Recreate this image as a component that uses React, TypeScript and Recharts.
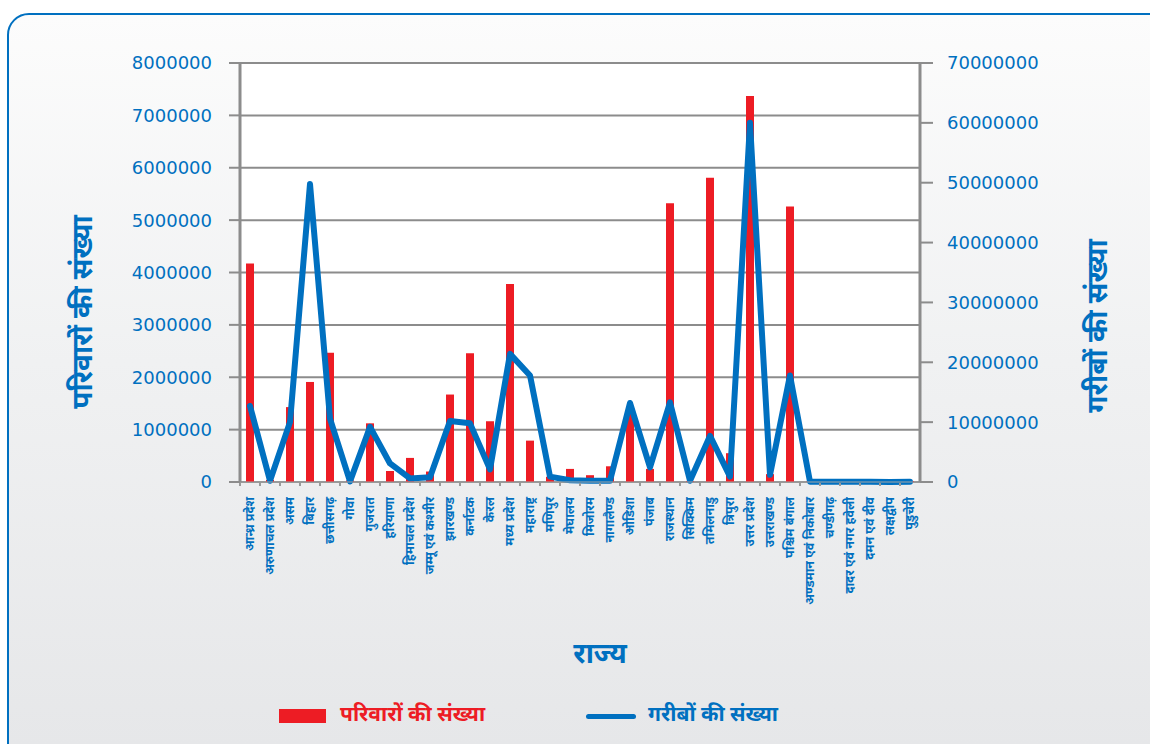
import { ComposedChart, Bar, Line, XAxis, YAxis, CartesianGrid } from 'recharts';

const states = [
  'आन्ध्र प्रदेश',
  'अरुणाचल प्रदेश',
  'असम',
  'बिहार',
  'छत्तीसगढ़',
  'गोवा',
  'गुजरात',
  'हरियाणा',
  'हिमाचल प्रदेश',
  'जम्मू एवं कश्मीर',
  'झारखण्ड',
  'कर्नाटक',
  'केरल',
  'मध्य प्रदेश',
  'महाराष्ट्र',
  'मणिपुर',
  'मेघालय',
  'मिजोरम',
  'नागालैण्ड',
  'ओडिशा',
  'पंजाब',
  'राजस्थान',
  'सिक्किम',
  'तमिलनाडु',
  'त्रिपुरा',
  'उत्तर प्रदेश',
  'उत्तराखण्ड',
  'पश्चिम बंगाल',
  'अण्डमान एवं निकोबार',
  'चण्डीगढ़',
  'दादर एवं नगर हवेली',
  'दमन एवं दीव',
  'लक्षद्वीप',
  'पुडुचेरी',
];

// परिवारों की संख्या (left axis)
const households = [
  4170000, 40000, 1430000, 1910000, 2470000, 30000, 1120000, 210000, 460000, 200000,
  1670000, 2460000, 1160000, 3780000, 790000, 100000, 250000, 130000, 300000, 1300000,
  250000, 5320000, 20000, 5810000, 550000, 7370000, 150000, 5260000, 10000, 5000,
  10000, 5000, 2000, 20000,
];

// गरीबों की संख्या (right axis)
const poor = [
  12700000, 200000, 10000000, 49800000, 10600000, 100000, 9200000, 3100000, 600000, 800000,
  10200000, 9800000, 2100000, 21400000, 17800000, 900000, 300000, 200000, 200000, 13200000,
  2450000, 13300000, 200000, 7700000, 900000, 60000000, 1200000, 17800000, 50000, 50000,
  50000, 50000, 20000, 50000,
];

const leftTicks = [0, 1000000, 2000000, 3000000, 4000000, 5000000, 6000000, 7000000, 8000000];
const rightTicks = [0, 10000000, 20000000, 30000000, 40000000, 50000000, 60000000, 70000000];

const data = states.map((state, i) => ({ state, households: households[i], poor: poor[i] }));

const BLUE = '#0070c0';
const RED = '#ed1c24';
const GRID = '#8c8c8c';
const DEVA = "'Noto Sans Devanagari', 'Lohit Devanagari', 'Noto Sans', sans-serif";
const NUM = "'DejaVu Sans', Verdana, sans-serif";

function StateTick({ x, y, payload }: any) {
  return (
    <g transform={`translate(${x},${y})`}>
      <line x1={-10} x2={-10} y1={-7} y2={-4} stroke="#9a9a9a" strokeWidth={2} />
      <text
        transform="rotate(-90)"
        x={-7}
        y={0}
        dy={4}
        textAnchor="end"
        fill={BLUE}
        fontSize={12.5}
        fontWeight="bold"
        fontFamily={DEVA}
      >
        {payload.value}
      </text>
    </g>
  );
}

const titleStyle = {
  position: 'absolute' as const,
  whiteSpace: 'nowrap' as const,
  color: BLUE,
  fontFamily: DEVA,
  fontWeight: 'bold' as const,
};

export default function App() {
  return (
    <div style={{ position: 'absolute', left: 0, top: 0, width: 1150, height: 744, overflow: 'hidden', background: '#fff' }}>
      <div
        style={{
          position: 'absolute',
          left: 7,
          top: 13,
          width: 1170,
          height: 770,
          borderRadius: 22,
          border: `2px solid ${BLUE}`,
          background: 'linear-gradient(#fcfcfc, #f0f1f2 45%, #e5e6e8)',
        }}
      />
      <div style={{ position: 'absolute', left: 0, top: 0 }}>
        <ComposedChart width={1150} height={744} data={data} margin={{ top: 63, right: 0, bottom: 0, left: 0 }}>
          <CartesianGrid yAxisId="left" vertical={false} fill="#ffffff" stroke={GRID} strokeWidth={2} />
          <XAxis
            dataKey="state"
            interval={0}
            height={262}
            axisLine={{ stroke: '#a6a6a6', strokeWidth: 1 }}
            tickLine={false}
            tick={<StateTick />}
          />
          <YAxis
            yAxisId="left"
            width={240}
            domain={[0, 8000000]}
            ticks={leftTicks}
            interval={0}
            axisLine={{ stroke: GRID, strokeWidth: 3 }}
            tickLine={{ stroke: GRID, strokeWidth: 2 }}
            tickSize={11}
            tickMargin={17}
            tick={{ fill: BLUE, fontSize: 18, fontFamily: NUM }}
          />
          <YAxis
            yAxisId="right"
            orientation="right"
            width={230}
            domain={[0, 70000000]}
            ticks={rightTicks}
            interval={0}
            axisLine={{ stroke: GRID, strokeWidth: 3 }}
            tickLine={{ stroke: GRID, strokeWidth: 2 }}
            tickSize={13}
            tickMargin={14}
            tick={{ fill: BLUE, fontSize: 18, fontFamily: NUM }}
          />
          <Bar yAxisId="left" dataKey="households" fill={RED} barSize={8} isAnimationActive={false} />
          <Line
            yAxisId="right"
            type="linear"
            dataKey="poor"
            stroke={BLUE}
            strokeWidth={6}
            strokeLinejoin="round"
            strokeLinecap="round"
            dot={false}
            activeDot={false}
            isAnimationActive={false}
          />
        </ComposedChart>
      </div>

      <div style={{ ...titleStyle, left: 85, top: 312, fontSize: 28, transform: 'translate(-50%, -50%) rotate(-90deg)' }}>
        परिवारों की संख्या
      </div>
      <div style={{ ...titleStyle, left: 1100, top: 326, fontSize: 28, transform: 'translate(-50%, -50%) rotate(-90deg)' }}>
        गरीबों की संख्या
      </div>
      <div style={{ ...titleStyle, left: 600, top: 656, fontSize: 28, transform: 'translate(-50%, -50%)' }}>
        राज्य
      </div>

      <div style={{ position: 'absolute', left: 279, top: 709, width: 47, height: 14, background: RED }} />
      <div style={{ ...titleStyle, color: RED, left: 340, top: 716, fontSize: 21, transform: 'translateY(-50%)' }}>
        परिवारों की संख्या
      </div>
      <div style={{ position: 'absolute', left: 586, top: 714, width: 50, height: 5, borderRadius: 3, background: BLUE }} />
      <div style={{ ...titleStyle, left: 648, top: 716, fontSize: 21, transform: 'translateY(-50%)' }}>
        गरीबों की संख्या
      </div>
    </div>
  );
}
